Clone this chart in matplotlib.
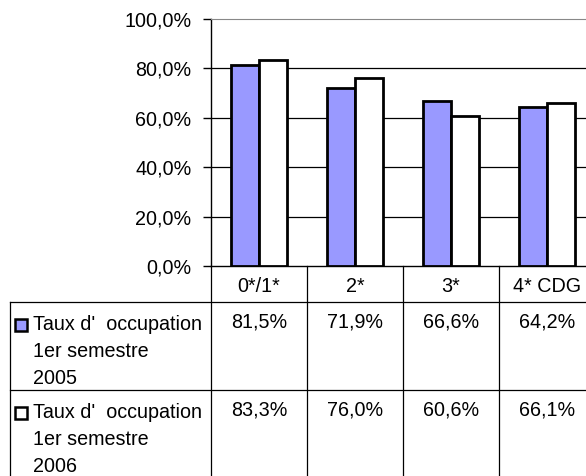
import matplotlib
matplotlib.use("Agg")
import matplotlib.pyplot as plt
from matplotlib.lines import Line2D
import numpy as np

categories = ["0*/1*", "2*", "3*", "4* CDG"]
series_names = ["Taux d'  occupation\n1er semestre\n2005",
                "Taux d'  occupation\n1er semestre\n2006"]
values_2005 = [81.5, 71.9, 66.6, 64.2]
values_2006 = [83.3, 76.0, 60.6, 66.1]
yticks = [0, 20, 40, 60, 80, 100]

W, H = 586, 476
fig = plt.figure(figsize=(W / 100, H / 100), dpi=100)
plt.rcParams['font.family'] = ['Liberation Sans', 'DejaVu Sans']
FS = 14.2

def fx(x):
    return x / W

def fy(y):
    return 1 - y / H

# axes in pixel coordinates
L, R, T, B = 211, 595, 19, 266
ax = fig.add_axes([fx(L), fy(B), (R - L) / W, (B - T) / H])
ax.set_xlim(0, len(categories))
ax.set_ylim(0, 100)

x = np.arange(len(categories)) + 0.5
bw = 0.29
ax.bar(x - bw / 2, values_2005, width=bw, color="#9999FF", edgecolor="black", linewidth=2, zorder=3)
ax.bar(x + bw / 2, values_2006, width=bw, color="white", edgecolor="black", linewidth=2, zorder=3)

for v in yticks[1:-1]:
    ax.axhline(v, color="black", linewidth=0.9, zorder=1)
ax.set_yticks(yticks)
ax.set_yticklabels([f"{v:.1f}%".replace(".", ",") for v in yticks], fontsize=FS)
ax.tick_params(axis="y", length=6, width=1, pad=8, direction="out")
ax.set_xticks([])
ax.spines["top"].set_color("#888888")
ax.spines["right"].set_visible(False)
ax.spines["left"].set_linewidth(1)
ax.spines["bottom"].set_linewidth(1)

# table lines
def line(x0, y0, x1, y1):
    fig.add_artist(Line2D([fx(x0), fx(x1)], [fy(y0), fy(y1)], color="black", linewidth=0.9))

colw = (R - L) / len(categories)
for i in range(len(categories) + 1):
    xx = L + i * colw
    line(xx, B, xx, H + 2)
line(10, 302, R, 302)
line(10, 390, R, 390)
line(10, 302, 10, H + 2)

# category labels
for i, c in enumerate(categories):
    fig.text(fx(L + (i + 0.5) * colw), fy(292), c, ha="center", va="baseline", fontsize=FS)

# rows
row_top = [302, 390]
colors = ["#9999FF", "white"]
for r, (name, vals) in enumerate(zip(series_names, [values_2005, values_2006])):
    y0 = row_top[r]
    lines = name.split("\n")
    for k, t in enumerate(lines):
        fig.text(fx(33), fy(y0 + 28 + k * 27), t, ha="left", va="baseline", fontsize=FS)
    fig.add_artist(plt.Rectangle((fx(15), fy(y0 + 29)), 12 / W, 12 / H, facecolor=colors[r],
                                 edgecolor="black", linewidth=1.8, transform=fig.transFigure))
    for i, v in enumerate(vals):
        fig.text(fx(L + (i + 0.5) * colw), fy(y0 + 25), f"{v:.1f}%".replace(".", ","),
                 ha="center", va="baseline", fontsize=FS)

fig.savefig("out.png", dpi=100)
